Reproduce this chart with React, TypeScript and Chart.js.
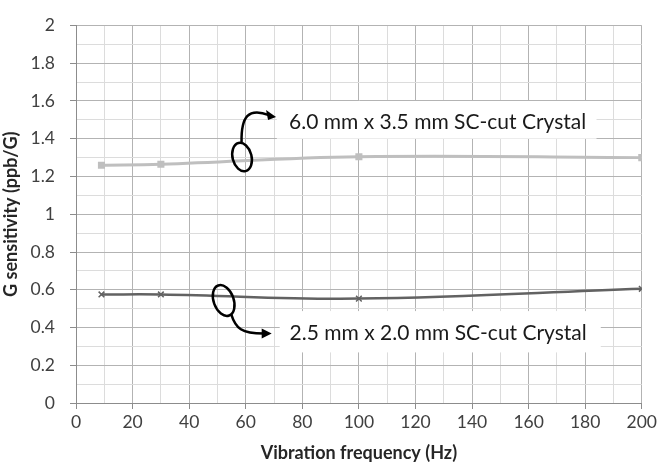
import React, { useEffect, useRef } from 'react';
import { Chart, registerables } from 'chart.js';

Chart.register(...registerables);

const frequencies = [9, 30, 100, 200];
const largeCrystal = [1.26, 1.265, 1.305, 1.3];
const smallCrystal = [0.575, 0.575, 0.553, 0.605];
const largeLabel = '6.0 mm x 3.5 mm SC-cut Crystal';
const smallLabel = '2.5 mm x 2.0 mm SC-cut Crystal';
const xTitle = 'Vibration frequency (Hz)';
const yTitle = 'G sensitivity (ppb/G)';

const FONT = 'Lato, "Open Sans", sans-serif';

const calloutPlugin = {
  id: 'callouts',
  afterDatasetsDraw(chart: any) {
    const { ctx } = chart;
    const xs = chart.scales.x;
    const ys = chart.scales.y;
    const px = (v: number) => xs.getPixelForValue(v);
    const py = (v: number) => ys.getPixelForValue(v);
    ctx.save();

    const box = (x0: number, x1: number, y0: number, y1: number, tx: number, ty: number, text: string) => {
      ctx.fillStyle = '#ffffff';
      const l = px(x0), r = px(x1), t = py(y0), b = py(y1);
      ctx.fillRect(l, t, r - l, b - t);
      ctx.fillStyle = '#1a1a1a';
      ctx.font = `21px ${FONT}`;
      ctx.textAlign = 'left';
      ctx.textBaseline = 'middle';
      ctx.fillText(text, px(tx), py(ty));
    };
    box(71, 184, 1.6, 1.4, 75.3, 1.49, largeLabel);
    box(72, 185.5, 0.487, 0.268, 75.5, 0.37, smallLabel);

    ctx.strokeStyle = '#000000';
    ctx.fillStyle = '#000000';
    ctx.lineWidth = 2.5;

    // top callout
    let cx = px(58.7), cy = py(1.303);
    ctx.beginPath();
    ctx.ellipse(cx, cy, 9.5, 14.5, -0.25, 0, Math.PI * 2);
    ctx.stroke();
    ctx.beginPath();
    ctx.moveTo(cx - 0.5, cy - 15);
    ctx.bezierCurveTo(cx - 1, cy - 40, cx + 6, cy - 50, cx + 27, cy - 42);
    ctx.stroke();
    ctx.beginPath();
    ctx.moveTo(cx + 34, cy - 40);
    ctx.lineTo(cx + 24, cy - 47);
    ctx.lineTo(cx + 26, cy - 37);
    ctx.closePath();
    ctx.fill();

    // bottom callout
    cx = px(52.2); cy = py(0.543);
    ctx.beginPath();
    ctx.ellipse(cx, cy, 10, 16, -0.35, 0, Math.PI * 2);
    ctx.stroke();
    ctx.beginPath();
    ctx.moveTo(cx + 7.5, cy + 13.5);
    ctx.bezierCurveTo(cx + 12, cy + 28, cx + 18, cy + 33, cx + 40, cy + 33);
    ctx.stroke();
    ctx.beginPath();
    ctx.moveTo(cx + 48, cy + 33);
    ctx.lineTo(cx + 38, cy + 28);
    ctx.lineTo(cx + 38, cy + 38);
    ctx.closePath();
    ctx.fill();

    ctx.restore();
  },
};

const isMajorX = (v: number) => Math.round(v) % 20 === 0;
const isMajorY = (v: number) => Math.round(v * 10) % 2 === 0;

export default function App() {
  const ref = useRef<HTMLCanvasElement | null>(null);

  useEffect(() => {
    if (!ref.current) return;
    const chart = new Chart(ref.current, {
      type: 'line',
      data: {
        datasets: [
          {
            label: largeLabel,
            data: frequencies.map((f, i) => ({ x: f, y: largeCrystal[i] })),
            borderColor: '#bfbfbf',
            backgroundColor: '#bfbfbf',
            borderWidth: 3,
            pointStyle: 'rect',
            pointRadius: 5,
            pointBorderWidth: 0,
            tension: 0.4,
          },
          {
            label: smallLabel,
            data: frequencies.map((f, i) => ({ x: f, y: smallCrystal[i] })),
            borderColor: '#626262',
            backgroundColor: '#626262',
            borderWidth: 2.5,
            pointStyle: 'crossRot',
            pointRadius: 4,
            pointBorderWidth: 1.5,
            tension: 0.4,
          },
        ],
      },
      options: {
        animation: false,
        responsive: true,
        maintainAspectRatio: false,
        layout: { padding: { top: 10, right: 17, left: 0, bottom: 0 } },
        plugins: {
          legend: { display: false },
          tooltip: { enabled: false },
        },
        scales: {
          x: {
            type: 'linear',
            min: 0,
            max: 200,
            afterFit: (s: any) => { s.height = 70; },
            ticks: {
              stepSize: 10,
              autoSkip: false,
              maxRotation: 0,
              color: '#404040',
              padding: 3,
              font: { family: FONT, size: 17.5 },
              callback: (v: any) => (isMajorX(Number(v)) ? String(Math.round(Number(v))) : ''),
            },
            grid: {
              color: (c: any) => (isMajorX(c.tick.value) ? '#b3b3b3' : '#dcdcdc'),
              tickColor: (c: any) => (isMajorX(c.tick.value) ? '#8c8c8c' : 'rgba(0,0,0,0)'),
              tickLength: 6,
              lineWidth: 1,
            },
            border: { color: '#8c8c8c', width: 1 },
            title: {
              display: true,
              text: xTitle,
              color: '#262626',
              font: { family: FONT, size: 18, weight: 'bold' },
              padding: { top: 0, bottom: 9 },
            },
          },
          y: {
            type: 'linear',
            min: 0,
            max: 2,
            afterFit: (s: any) => { s.width = 76; },
            ticks: {
              stepSize: 0.1,
              autoSkip: false,
              color: '#404040',
              padding: 15,
              font: { family: FONT, size: 17.5 },
              callback: (v: any) => (isMajorY(Number(v)) ? String(Math.round(Number(v) * 10) / 10) : ''),
            },
            grid: {
              color: (c: any) => (isMajorY(c.tick.value) ? '#b3b3b3' : '#dcdcdc'),
              tickColor: (c: any) => (isMajorY(c.tick.value) ? '#8c8c8c' : 'rgba(0,0,0,0)'),
              tickLength: 6,
              lineWidth: 1,
            },
            border: { color: '#8c8c8c', width: 1 },
            title: {
              display: true,
              text: yTitle,
              color: '#262626',
              font: { family: FONT, size: 18, weight: 'bold' },
              padding: { top: 0, bottom: 6 },
            },
          },
        },
      },
      plugins: [calloutPlugin],
    } as any);
    return () => chart.destroy();
  }, []);

  return (
    <div style={{ position: 'absolute', left: 0, top: 0, width: 660, height: 473, background: '#ffffff' }}>
      <canvas ref={ref} />
    </div>
  );
}
